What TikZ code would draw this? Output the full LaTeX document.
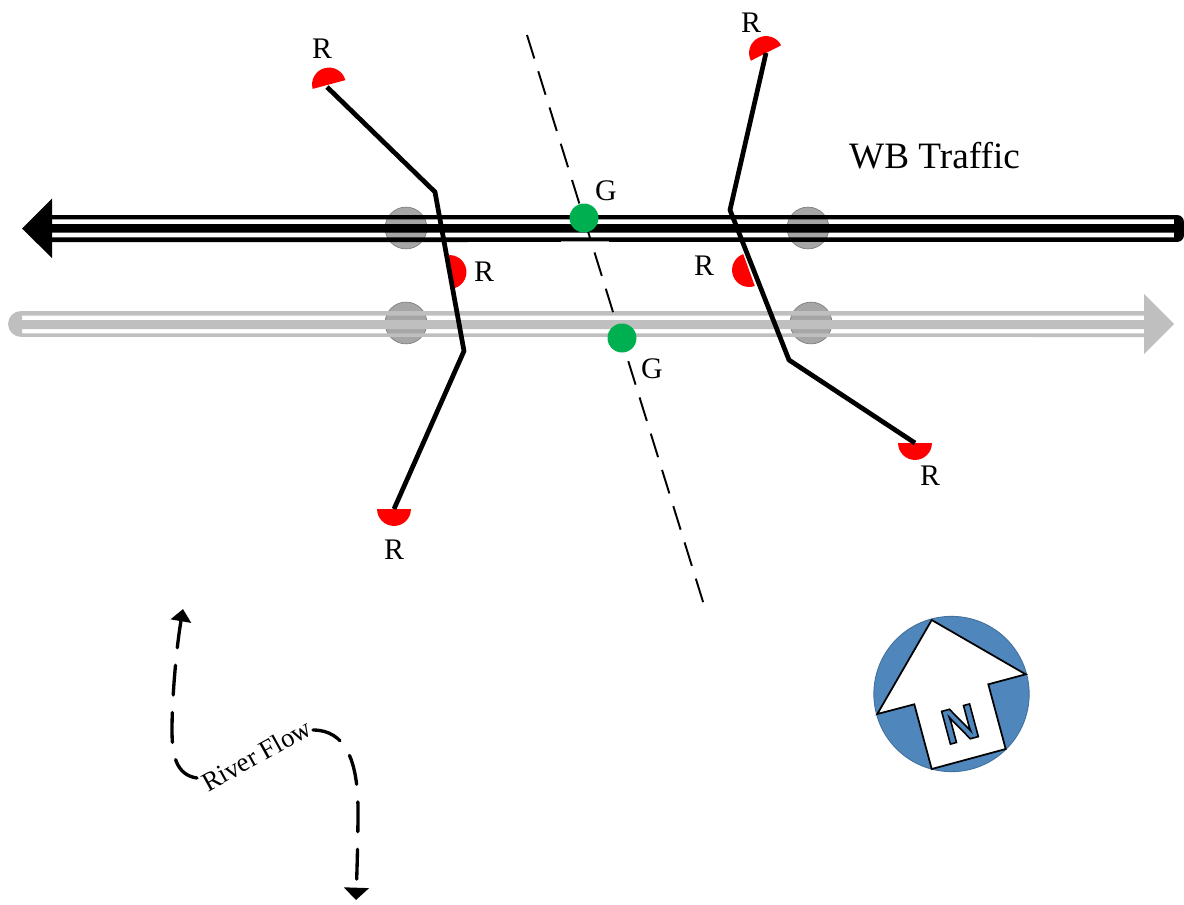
\documentclass[tikz,border=0pt]{standalone}
\usepackage{fontspec}
\setmainfont{Liberation Serif}
\newfontfamily\northfont{Liberation Sans}
\usetikzlibrary{arrows.meta}
\definecolor{roadgrey}{HTML}{BFBFBF}
\definecolor{polegrey}{HTML}{A6A6A6}
\definecolor{polegreyline}{HTML}{808080}
\definecolor{greenhead}{HTML}{00B050}
\definecolor{compassblue}{HTML}{4F86BB}
\definecolor{compassline}{HTML}{41719C}
\tikzset{
  arm/.style={line width=2.7pt, line join=round, black},
  pole/.style={circle, minimum size=23.8pt, inner sep=0pt, fill=polegrey, draw=polegreyline, line width=0.4pt},
  greenlight/.style={circle, minimum size=16.5pt, inner sep=0pt, fill=greenhead},
  signal/.style={font=\fontsize{17}{17}\selectfont, inner sep=0pt},
  river/.style={line width=1.9pt, dash pattern=on 17pt off 10pt, line cap=round},
}
% red signal head: flat side centred on #1, turned by #2
\newcommand{\redhead}[2]{\fill[red, rotate around={#2:(#1)}] ([xshift=-9.64pt]#1) arc[start angle=180, end angle=0, radius=9.64pt] -- cycle;}

\begin{document}
\begin{tikzpicture}[x=0.02cm, y=-0.02cm]
\useasboundingbox (0,0) rectangle (1184,904);

% detector circles first, the roads run over them
\node[pole] (poleNW) at (406,228) {};
\node[pole] (poleNE) at (808,228) {};
\node[pole] (poleSW) at (406,323) {};
\node[pole] (poleSE) at (811,323) {};

% WB road
\fill (52,215) -- (1177,215) arc[start angle=90, end angle=0, radius=3.97pt] -- (1184,235) arc[start angle=0, end angle=-90, radius=3.97pt] -- (52,242) -- (52,237.3) -- (1174,237.3) -- (1174,232.7) -- (52,232.7) -- (52,224) -- (1174,224) -- (1174,219.3) -- (52,219.3) -- cycle;
\fill (52,198.5) -- (22,228.5) -- (52,258) -- cycle;
\fill[gray!70] (561,240.6) rectangle (609,242.4);

% EB road
\fill[roadgrey] (1144,311) -- (21,311) arc[start angle=90, end angle=270, radius=7.37pt] -- (1144,337) -- (1144,333.3) -- (22,333.3) -- (22,329) -- (1144,329) -- (1144,320) -- (22,320) -- (22,315.7) -- (1144,315.7) -- cycle;
\fill[roadgrey] (1144,294) -- (1174,324) -- (1144,354) -- cycle;

\redhead{329,84.5}{15}
\redhead{766,53}{27}
\redhead{449.5,272}{-82}
\redhead{749,270}{110}
\redhead{394,509}{180}
\redhead{915,443}{180}

% mast arms
\coordinate (armNWend) at (327,87);
\coordinate (armNWa) at (435,192);
\coordinate (armNWb) at (464,351);
\coordinate (armSWend) at (394,509);
\coordinate (armNEend) at (766,53);
\coordinate (armNEa) at (730,210);
\coordinate (armNEb) at (789,360);
\coordinate (armSEend) at (915,443);
\draw[arm] (armNWend) -- (armNWa) -- (armNWb) -- (armSWend);
\draw[arm] (armNEend) -- (armNEa) -- (armNEb) -- (armSEend);

% centre line
\coordinate (cutN) at (527,35);
\coordinate (cutS) at (704,605);
\draw[line width=1.1pt, dash pattern=on 14pt off 7.6pt] (cutN) -- (cutS);

\node[greenlight] (greenN) at (584,218) {};
\node[greenlight] (greenS) at (622,338) {};

\node[signal] (labNW) at (322,49) {R};
\node[signal] (labNE) at (751,23) {R};
\node[signal] (labMW) at (484,272) {R};
\node[signal] (labME) at (704,266) {R};
\node[signal] (labSW) at (394,550) {R};
\node[signal] (labSE) at (930,476) {R};
\node[signal] (labGN) at (606,191) {G};
\node[signal] (labGS) at (652,369) {G};

\node[font=\fontsize{21.2}{21.2}\selectfont, inner sep=0pt] (wbtraffic) at (934.5,156) {WB Traffic};

% river
\node[font=\fontsize{15.2}{15.2}\selectfont, rotate=29, inner sep=0pt] (riverlabel) at (256.5,755) {River Flow};
\coordinate (riverN) at (183,609);
\coordinate (riverS) at (356,900);
\draw[river, -{Triangle[length=7pt,width=11.5pt]}] (197,778) .. controls (176,775) and (172,755) .. (172,730) .. controls (172,700) and (176,650) .. (riverN);
\draw[river, -{Triangle[length=7pt,width=14pt]}] (313,730) .. controls (345,730) and (358,760) .. (358,810) .. controls (358,840) and (357,870) .. (riverS);

% compass
\node[circle, minimum size=88.4pt, inner sep=0pt, fill=compassblue, draw=compassline, line width=0.5pt] (compass) at (951.5,694) {};
\draw[fill=white, line width=1pt, line join=miter] (931.7,620) -- (1025.7,674.3) -- (988.3,684.3) -- (1005.7,749) -- (931.7,769) -- (914.3,704.3) -- (877.3,714) -- cycle;
\node[rotate=15, inner sep=0pt, text=compassblue, font=\fontsize{28}{28}\selectfont\northfont\bfseries] (north) at (960,724) {\special{pdf:code 2 Tr 0.9 w 0 0 0 RG}N\special{pdf:code 0 Tr}};
\end{tikzpicture}
\end{document}
